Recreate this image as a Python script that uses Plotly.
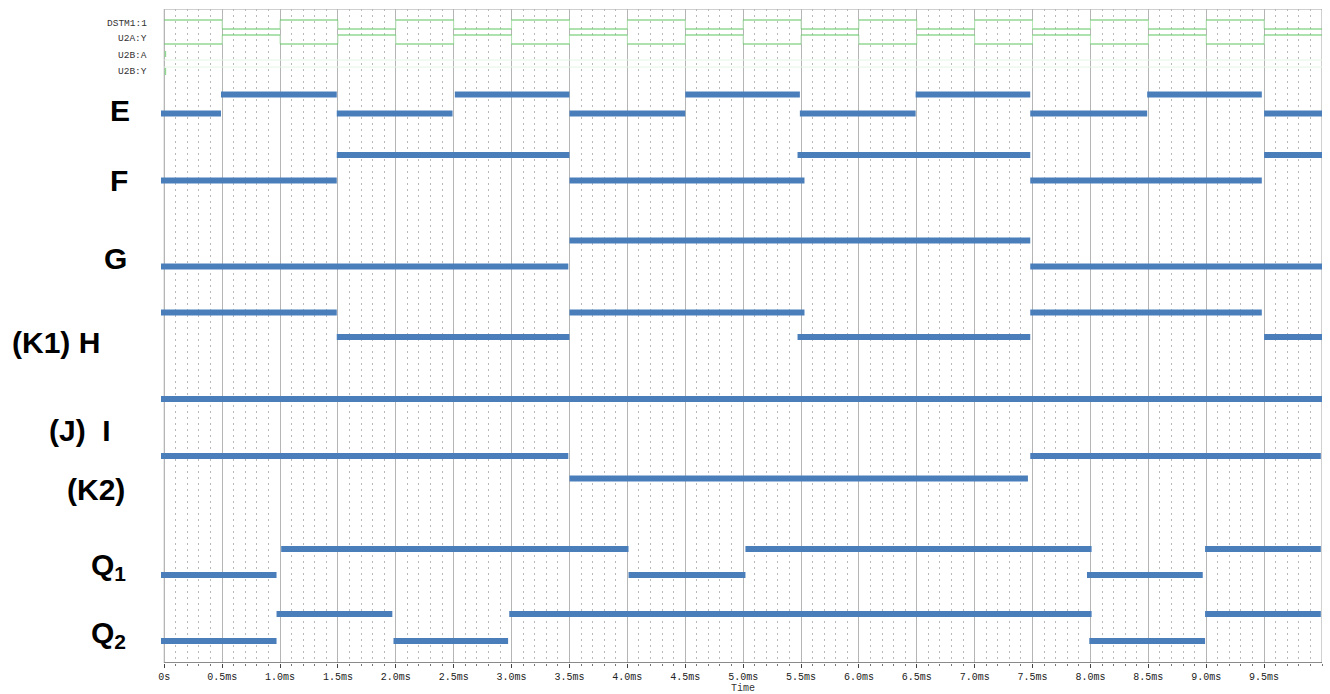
import plotly.graph_objects as go

# ---------------- data ----------------
# time-axis ticks (ms)
tick_vals = [0, 0.5, 1.0, 1.5, 2.0, 2.5, 3.0, 3.5, 4.0, 4.5, 5.0, 5.5, 6.0, 6.5, 7.0, 7.5, 8.0, 8.5, 9.0, 9.5]
tick_text = ["0s", "0.5ms", "1.0ms", "1.5ms", "2.0ms", "2.5ms", "3.0ms", "3.5ms", "4.0ms", "4.5ms",
             "5.0ms", "5.5ms", "6.0ms", "6.5ms", "7.0ms", "7.5ms", "8.0ms", "8.5ms", "9.0ms", "9.5ms"]

# simulator clock (DSTM1:1) and its inverse (U2A:Y): state per 0.5 ms half period
clk_edges = [0, 0.5, 1.0, 1.5, 2.0, 2.5, 3.0, 3.5, 4.0, 4.5, 5.0, 5.5, 6.0, 6.5, 7.0, 7.5, 8.0, 8.5, 9.0, 9.5, 10.0]
clk_state = [1, 0, 1, 0, 1, 0, 1, 0, 1, 0, 1, 0, 1, 0, 1, 0, 1, 0, 1, 0]

# hand-drawn logic rows: segment start (ms), end (ms), state (1 = high)
E_start = [-0.03, 0.49, 1.49, 2.51, 3.50, 4.50, 5.49, 6.49, 7.48, 8.49, 9.50]
E_end   = [0.49, 1.49, 2.49, 3.50, 4.50, 5.49, 6.49, 7.48, 8.49, 9.48, 10.0]
E_state = [0, 1, 0, 1, 0, 1, 0, 1, 0, 1, 0]

F_start = [-0.03, 1.49, 3.50, 5.47, 7.48, 9.50]
F_end   = [1.49, 3.50, 5.53, 7.48, 9.48, 10.0]
F_state = [0, 1, 0, 1, 0, 1]

G_start = [-0.03, 3.50, 7.48]
G_end   = [3.49, 7.48, 10.0]
G_state = [0, 1, 0]

H_start = [-0.03, 1.49, 3.50, 5.47, 7.48, 9.50]
H_end   = [1.49, 3.50, 5.53, 7.48, 9.48, 10.0]
H_state = [1, 0, 1, 0, 1, 0]

I_start = [-0.03]
I_end   = [10.0]
I_state = [1]

K2_start = [-0.03, 3.50, 7.48]
K2_end   = [3.49, 7.46, 9.99]
K2_state = [1, 0, 1]

Q1_start = [-0.03, 1.01, 4.01, 5.02, 7.97, 8.99]
Q1_end   = [0.97, 4.01, 5.02, 8.01, 8.97, 9.99]
Q1_state = [0, 1, 0, 1, 0, 1]

Q2_start = [-0.03, 0.97, 1.98, 2.98, 7.99, 8.99]
Q2_end   = [0.97, 1.97, 2.97, 8.01, 8.99, 9.99]
Q2_state = [0, 1, 0, 1, 0, 1]

row_labels = ["E", "F", "G", "(K1) H", "(J)  I", "(K2)", "Q<sub>1</sub>", "Q<sub>2</sub>"]
probe_labels = ["DSTM1:1", "U2A:Y", "U2B:A", "U2B:Y"]

# ---------------- layout / style ----------------
W, H = 1330, 694
PLOT_TOP, PLOT_BOT = 9, 663          # y axis uses the vertical position scale of the sheet
L_PX, R_PX = 161, 1322
BLUE = "#4a7ebb"
GREEN = "#5cc45c"
GREEN_LIGHT = "#b6e6b6"

# vertical levels (high, low) for each row on the y scale
levels = {
    "E": (94.5, 113.5), "F": (155, 180.5), "G": (240.5, 266.5), "H": (312.5, 337),
    "I": (399, 399), "K2": (456, 478.5), "Q1": (549, 575), "Q2": (614, 641),
}
rows = {
    "E": (E_start, E_end, E_state), "F": (F_start, F_end, F_state), "G": (G_start, G_end, G_state),
    "H": (H_start, H_end, H_state), "I": (I_start, I_end, I_state), "K2": (K2_start, K2_end, K2_state),
    "Q1": (Q1_start, Q1_end, Q1_state), "Q2": (Q2_start, Q2_end, Q2_state),
}

fig = go.Figure()

# green probe traces (clock and inverted clock)
def clock_trace(levels_hi_lo, invert):
    hx, hy, vx, vy = [], [], [], []
    prev = None
    for i, s in enumerate(clk_state):
        st = 1 - s if invert else s
        yv = levels_hi_lo[0] if st else levels_hi_lo[1]
        hx += [clk_edges[i], clk_edges[i + 1], None]
        hy += [yv, yv, None]
        if prev is not None and prev != yv:
            vx += [clk_edges[i], clk_edges[i], None]
            vy += [prev, yv, None]
        prev = yv
    return hx, hy, vx, vy

for lv, inv in [((20, 29), False), ((35, 44), True)]:
    hx, hy, vx, vy = clock_trace(lv, inv)
    fig.add_trace(go.Scatter(x=vx, y=vy, mode="lines", line=dict(color=GREEN_LIGHT, width=1),
                             hoverinfo="skip", showlegend=False))
    fig.add_trace(go.Scatter(x=hx, y=hy, mode="lines", line=dict(color=GREEN, width=1.2),
                             hoverinfo="skip", showlegend=False))

# faint U2B traces
fig.add_trace(go.Scatter(x=[0, 10, None, 0, 10], y=[60, 60, None, 67, 67], mode="lines",
                         line=dict(color="#e4f5e4", width=1), hoverinfo="skip", showlegend=False))
fig.add_trace(go.Scatter(x=[0.01, 0.01, None, 0.01, 0.01], y=[51, 57, None, 68, 75], mode="lines",
                         line=dict(color="#8fd88f", width=1.5), hoverinfo="skip", showlegend=False))

# blue hand-drawn logic rows
for name, (st, en, stt) in rows.items():
    hi, lo = levels[name]
    xs, ys = [], []
    for a, b, s in zip(st, en, stt):
        yv = hi if s else lo
        xs += [a, b, None]
        ys += [yv, yv, None]
    fig.add_trace(go.Scatter(x=xs, y=ys, mode="lines", line=dict(color=BLUE, width=6),
                             hoverinfo="skip", showlegend=False))

x0 = -(164.25 - L_PX) / 115.75
fig.update_layout(
    width=W, height=H,
    margin=dict(l=L_PX, r=W - R_PX, t=PLOT_TOP, b=H - PLOT_BOT),
    paper_bgcolor="white", plot_bgcolor="white",
    showlegend=False,
    xaxis=dict(range=[x0, 10.0], tickmode="array", tickvals=tick_vals, ticktext=tick_text,
               showgrid=True, gridcolor="#b5b5b5", gridwidth=1.2, zeroline=False, showline=False,
               ticks="outside", ticklen=4, tickcolor="#444", tickwidth=1,
               tickfont=dict(family="Liberation Mono", size=10, color="#222"),
               minor=dict(tick0=0, dtick=0.1, showgrid=True, gridcolor="#b8b8b8", griddash="2px,4px",
                          gridwidth=1, ticks="outside", ticklen=2, tickcolor="#777")),
    yaxis=dict(range=[PLOT_BOT, PLOT_TOP], visible=False, showgrid=False, zeroline=False),
    shapes=[
        dict(type="rect", xref="x", yref="y", x0=0, x1=10, y0=PLOT_TOP, y1=PLOT_BOT,
             line=dict(color="#a0a0a0", width=1), layer="below"),
        dict(type="line", xref="x", yref="y", x0=0, x1=10, y0=PLOT_BOT, y1=PLOT_BOT,
             line=dict(color="#444", width=1)),
    ],
)

def px_to_paper(px):
    return (px - L_PX) / (R_PX - L_PX)

label_pos = [(119.5, 110), (118.5, 180), (115, 258), (55.5, 342), (79.5, 430), (95.5, 489),
             (108, 566), (108, 634)]
ann = []
for txt, (px, py) in zip(row_labels, label_pos):
    ann.append(dict(text=txt, xref="paper", yref="y", x=px_to_paper(px), y=py,
                    xanchor="center", yanchor="middle", showarrow=False,
                    font=dict(family="Liberation Sans", size=30, color="black", weight="bold")))
for txt, py in zip(probe_labels, [23, 38, 55, 71]):
    ann.append(dict(text=txt, xref="paper", yref="y", x=px_to_paper(149), y=py,
                    xanchor="right", yanchor="middle", showarrow=False,
                    font=dict(family="Liberation Mono", size=9.5, color="#333")))
ann.append(dict(text="Time", xref="paper", yref="paper", x=px_to_paper(743),
                y=(PLOT_BOT - 688) / (PLOT_BOT - PLOT_TOP),
                yanchor="middle", xanchor="center", showarrow=False,
                font=dict(family="Liberation Mono", size=10, color="#333")))
fig.update_layout(annotations=ann)

fig.write_html("out.html", config={"displayModeBar": False},
               post_script="document.body.style.margin='0';document.body.style.overflow='hidden';")
